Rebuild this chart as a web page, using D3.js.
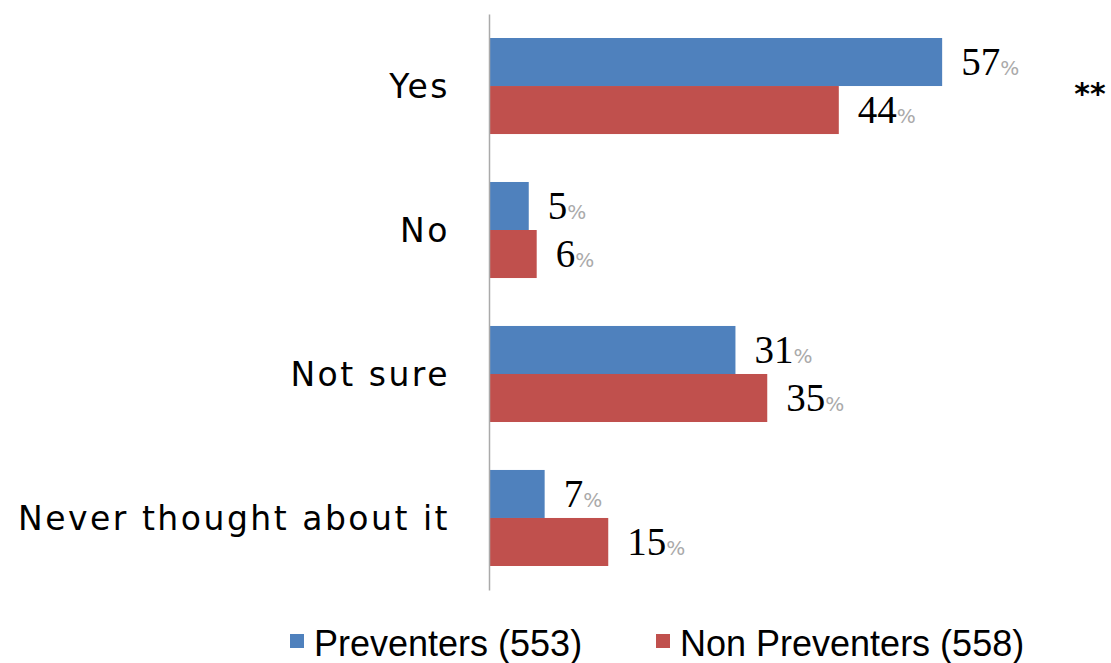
<!DOCTYPE html>
<html><head><meta charset="utf-8">
<script src="https://cdn.jsdelivr.net/npm/d3@7"></script>
<style>body{margin:0;background:#fff;}svg{display:block;}</style>
</head><body>
<svg id="chart" width="1111" height="663"></svg>
<script>
const categories = ["Yes", "No", "Not sure", "Never thought about it"];
const seriesNames = ["Preventers (553)", "Non Preventers (558)"];
const preventers = [57, 5, 31, 7];
const nonPreventers = [44, 6, 35, 15];
const annotations = ["**", "", "", ""];
const colors = ["#4f81bd", "#c0504d"];

const svg = d3.select("#chart");
const x = d3.scaleLinear().domain([0, 100]).range([489, 1284]);
const y = d3.scaleBand().domain(categories).range([14, 590]).paddingInner(0.333).paddingOuter(0.1667);
const ySub = d3.scaleBand().domain([0, 1]).range([0, y.bandwidth()]);

const series = [preventers, nonPreventers];

// bars
series.forEach((vals, si) => {
  svg.append("g").selectAll("rect").data(vals).join("rect")
    .attr("x", x(0))
    .attr("y", (d, i) => y(categories[i]) + ySub(si))
    .attr("width", d => x(d) - x(0))
    .attr("height", ySub.bandwidth())
    .attr("fill", colors[si]);
  const lbl = svg.append("g").selectAll("text").data(vals).join("text")
    .attr("x", d => x(d) + 19)
    .attr("y", (d, i) => y(categories[i]) + ySub(si) + ySub.bandwidth() / 2 + 13)
    .attr("font-family", "Liberation Serif, serif")
    .attr("font-size", 39)
    .attr("fill", "#000");
  lbl.append("tspan").text(d => d);
  lbl.append("tspan").text("%").attr("font-size", 20).attr("fill", "#aaa")
    .attr("font-family", "DejaVu Sans, sans-serif").attr("dy", 0);
});

// axis
const axis = d3.axisLeft(y).tickSize(0).tickPadding(40);
const ag = svg.append("g").attr("transform", `translate(${x(0)},0)`).call(axis);
ag.select(".domain").attr("stroke", "#aaa").attr("stroke-width", 1.5);
ag.selectAll("text").attr("font-family", "DejaVu Sans, sans-serif").attr("font-size", 33)
  .attr("letter-spacing", 2.5)
  .attr("fill", "#000").attr("dy", "0.35em").attr("x", -39);

// annotation
svg.append("g").selectAll("text").data(annotations).join("text")
  .attr("x", 1090).attr("y", (d, i) => y(categories[i]) + y.bandwidth() / 2 + 18)
  .attr("text-anchor", "middle")
  .attr("font-family", "DejaVu Sans, sans-serif").attr("font-size", 30).attr("font-weight", "bold")
  .text(d => d);

// legend
const legX = [290, 656];
const lg = svg.append("g").selectAll("g").data(seriesNames).join("g")
  .attr("transform", (d, i) => `translate(${legX[i]},634)`);
lg.append("rect").attr("width", 14).attr("height", 14).attr("fill", (d, i) => colors[i]);
lg.append("text").attr("x", 24).attr("y", 22)
  .attr("font-family", "Liberation Sans Narrow, Liberation Sans, sans-serif")
  .attr("font-size", 36).attr("fill", "#000").text(d => d);
</script>
</body></html>
